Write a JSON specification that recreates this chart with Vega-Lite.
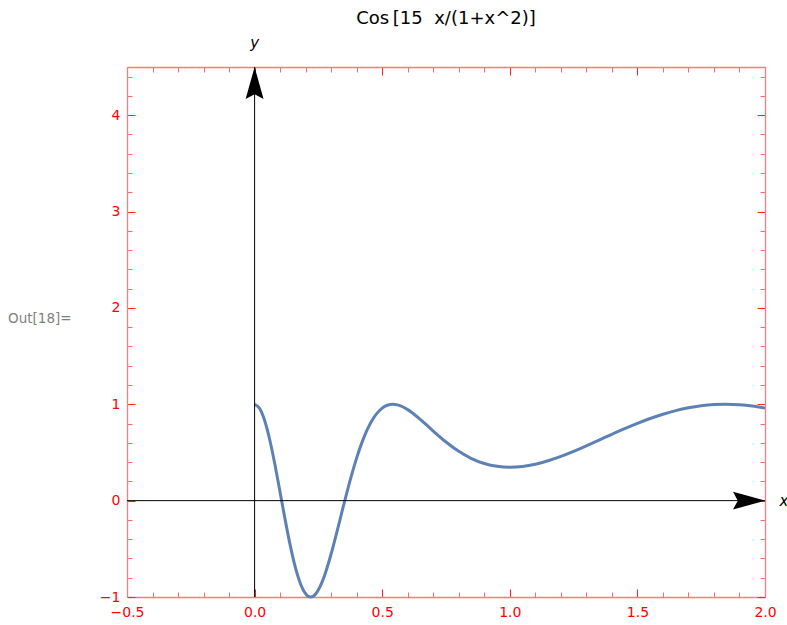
{
  "$schema": "https://vega.github.io/schema/vega-lite/v6.json",
  "width": 638,
  "height": 530,
  "autosize": "none",
  "padding": {"left": 127, "top": 67, "right": 22, "bottom": 28},
  "title": {
    "text": "Cos\u2009[15\u00a0\u00a0x/(1+x^2)]",
    "fontSize": 18,
    "font": "DejaVu Sans",
    "fontWeight": "normal",
    "color": "black",
    "offset": 8,
    "anchor": "middle"
  },
  "config": {"view": {"stroke": null}, "font": "DejaVu Sans"},
  "datasets": {
    "curve": [
      {"x": 0, "y": 1}, {"x": 0.02, "y": 0.9554}, {"x": 0.04, "y": 0.8259}, {"x": 0.06, "y": 0.6241},
      {"x": 0.08, "y": 0.3695}, {"x": 0.1, "y": 0.0855}, {"x": 0.12, "y": -0.2023}, {"x": 0.14, "y": -0.4696},
      {"x": 0.16, "y": -0.6956}, {"x": 0.18, "y": -0.8647}, {"x": 0.2, "y": -0.9672}, {"x": 0.2195, "y": -1.0},
      {"x": 0.24, "y": -0.9658}, {"x": 0.26, "y": -0.872}, {"x": 0.28, "y": -0.7296}, {"x": 0.3, "y": -0.5513},
      {"x": 0.32, "y": -0.3506}, {"x": 0.34, "y": -0.1404}, {"x": 0.36, "y": 0.068}, {"x": 0.38, "y": 0.2652},
      {"x": 0.4, "y": 0.444}, {"x": 0.42, "y": 0.5995}, {"x": 0.44, "y": 0.7292}, {"x": 0.46, "y": 0.8319},
      {"x": 0.48, "y": 0.9084}, {"x": 0.5, "y": 0.9602}, {"x": 0.52, "y": 0.9897}, {"x": 0.5419, "y": 1.0},
      {"x": 0.56, "y": 0.9938}, {"x": 0.58, "y": 0.9744}, {"x": 0.6, "y": 0.9446}, {"x": 0.62, "y": 0.9071},
      {"x": 0.64, "y": 0.8647}, {"x": 0.66, "y": 0.818}, {"x": 0.68, "y": 0.7702}, {"x": 0.7, "y": 0.7222},
      {"x": 0.75, "y": 0.6084}, {"x": 0.8, "y": 0.5115}, {"x": 0.85, "y": 0.4367}, {"x": 0.9, "y": 0.3852},
      {"x": 0.95, "y": 0.3559}, {"x": 1.0, "y": 0.3466}, {"x": 1.05, "y": 0.355}, {"x": 1.1, "y": 0.3783},
      {"x": 1.15, "y": 0.4138}, {"x": 1.2, "y": 0.4591}, {"x": 1.25, "y": 0.5115}, {"x": 1.3, "y": 0.5687},
      {"x": 1.35, "y": 0.6284}, {"x": 1.4, "y": 0.6885}, {"x": 1.45, "y": 0.747}, {"x": 1.5, "y": 0.8022},
      {"x": 1.55, "y": 0.8525}, {"x": 1.6, "y": 0.8968}, {"x": 1.65, "y": 0.9339}, {"x": 1.7, "y": 0.9632},
      {"x": 1.75, "y": 0.9841}, {"x": 1.8, "y": 0.9964}, {"x": 1.8454, "y": 1.0}, {"x": 1.9, "y": 0.9949},
      {"x": 1.95, "y": 0.9815}, {"x": 2.0, "y": 0.9602}
    ],
    "hAxis": [{"x": -0.5, "x2": 2.0, "y": 0}],
    "vAxis": [{"x": 0, "y": -1, "y2": 4.5}],
    "arrows": [{"x": 2.0, "y": 0, "dir": "right"}, {"x": 0, "y": 4.5, "dir": "up"}],
    "axisLabels": [{"x": 0, "y": 4.75, "label": "y"}, {"x": 2.074, "y": 0, "label": "x"}],
    "outLabel": [{"x": -0.966, "y": 1.89, "label": "Out[18]="}]
  },
  "layer": [
    {
      "data": {"name": "curve"},
      "mark": {"type": "line", "color": "#5E81B5", "strokeWidth": 3, "interpolate": "monotone"},
      "encoding": {
        "x": {
          "field": "x", "type": "quantitative",
          "scale": {"domain": [-0.5, 2.0], "nice": false, "zero": false},
          "axis": {
            "orient": "bottom", "title": null, "grid": false,
            "values": [-0.5, -0.4, -0.3, -0.2, -0.1, 0, 0.1, 0.2, 0.3, 0.4, 0.5, 0.6, 0.7, 0.8, 0.9, 1.0, 1.1, 1.2, 1.3, 1.4, 1.5, 1.6, 1.7, 1.8, 1.9, 2.0],
            "domainColor": "#ff7a7a", "domainWidth": 1.3,
            "tickColor": {"condition": {"test": "abs(datum.value*2 - round(datum.value*2)) < 1e-6", "value": "#ff2020"}, "value": "#ff6a6a"},
            "tickSize": {"condition": {"test": "abs(datum.value*2 - round(datum.value*2)) < 1e-6", "value": -8}, "value": -5},
            "tickWidth": 1,
            "labelExpr": "abs(datum.value*2 - round(datum.value*2)) < 1e-6 ? format(datum.value, '.1f') : ''",
            "labelColor": "#ff0000", "labelFontSize": 14, "labelFont": "DejaVu Sans",
            "labelPadding": 16, "labelFlush": false, "labelOverlap": false, "labelBound": false
          }
        },
        "y": {
          "field": "y", "type": "quantitative",
          "scale": {"domain": [-1, 4.5], "nice": false, "zero": false},
          "axis": {
            "orient": "left", "title": null, "grid": false,
            "values": [-1, -0.8, -0.6, -0.4, -0.2, 0, 0.2, 0.4, 0.6, 0.8, 1, 1.2, 1.4, 1.6, 1.8, 2, 2.2, 2.4, 2.6, 2.8, 3, 3.2, 3.4, 3.6, 3.8, 4, 4.2, 4.4],
            "domainColor": "#ff7a7a", "domainWidth": 1.3,
            "tickColor": {"condition": {"test": "abs(datum.value - round(datum.value)) < 1e-6", "value": "#ff2020"}, "value": "#ff6a6a"},
            "tickSize": {"condition": {"test": "abs(datum.value - round(datum.value)) < 1e-6", "value": -8}, "value": -5},
            "tickWidth": 1,
            "labelExpr": "abs(datum.value - round(datum.value)) < 1e-6 ? format(datum.value, 'd') : ''",
            "labelColor": "#ff0000", "labelFontSize": 14, "labelFont": "DejaVu Sans",
            "labelPadding": 15, "labelFlush": false, "labelOverlap": false, "labelBound": false
          }
        }
      }
    },
    {
      "data": {"name": "hAxis"},
      "mark": {"type": "rule", "color": "black", "strokeWidth": 1},
      "encoding": {
        "x": {
          "field": "x", "type": "quantitative",
          "axis": {
            "orient": "top", "title": null, "grid": false, "labels": false,
            "values": [-0.5, -0.4, -0.3, -0.2, -0.1, 0, 0.1, 0.2, 0.3, 0.4, 0.5, 0.6, 0.7, 0.8, 0.9, 1.0, 1.1, 1.2, 1.3, 1.4, 1.5, 1.6, 1.7, 1.8, 1.9, 2.0],
            "domainColor": "#ff7a7a", "domainWidth": 1.3,
            "tickColor": {"condition": {"test": "abs(datum.value*2 - round(datum.value*2)) < 1e-6", "value": "#ff2020"}, "value": "#ff6a6a"},
            "tickSize": {"condition": {"test": "abs(datum.value*2 - round(datum.value*2)) < 1e-6", "value": -8}, "value": -5},
            "tickWidth": 1
          }
        },
        "x2": {"field": "x2"},
        "y": {
          "field": "y", "type": "quantitative",
          "axis": {
            "orient": "right", "title": null, "grid": false, "labels": false,
            "values": [-1, -0.8, -0.6, -0.4, -0.2, 0, 0.2, 0.4, 0.6, 0.8, 1, 1.2, 1.4, 1.6, 1.8, 2, 2.2, 2.4, 2.6, 2.8, 3, 3.2, 3.4, 3.6, 3.8, 4, 4.2, 4.4],
            "domainColor": "#ff7a7a", "domainWidth": 1.3,
            "tickColor": {"condition": {"test": "abs(datum.value - round(datum.value)) < 1e-6", "value": "#ff2020"}, "value": "#ff6a6a"},
            "tickSize": {"condition": {"test": "abs(datum.value - round(datum.value)) < 1e-6", "value": -8}, "value": -5},
            "tickWidth": 1
          }
        }
      }
    },
    {
      "data": {"name": "vAxis"},
      "mark": {"type": "rule", "color": "black", "strokeWidth": 1},
      "encoding": {
        "x": {"field": "x", "type": "quantitative", "axis": null},
        "y": {"field": "y", "type": "quantitative", "axis": null},
        "y2": {"field": "y2"}
      }
    },
    {
      "data": {"name": "arrows"},
      "mark": {"type": "point", "filled": true, "color": "black", "opacity": 1, "size": 1024, "strokeWidth": 0},
      "encoding": {
        "x": {"field": "x", "type": "quantitative", "axis": null},
        "y": {"field": "y", "type": "quantitative", "axis": null},
        "shape": {
          "field": "dir", "type": "nominal", "legend": null,
          "scale": {"domain": ["right", "up"], "range": ["M0,0L-2,-0.56L-1.7,0L-2,0.56Z", "M0,0L-0.56,2L0,1.7L0.56,2Z"]}
        }
      }
    },
    {
      "data": {"name": "axisLabels"},
      "mark": {"type": "text", "font": "DejaVu Sans", "fontStyle": "italic", "fontSize": 15, "color": "black", "align": "center", "baseline": "middle"},
      "encoding": {
        "x": {"field": "x", "type": "quantitative", "axis": null},
        "y": {"field": "y", "type": "quantitative", "axis": null},
        "text": {"field": "label"}
      }
    },
    {
      "data": {"name": "outLabel"},
      "mark": {"type": "text", "font": "DejaVu Sans", "fontSize": 13.5, "color": "#7f7f7f", "align": "left", "baseline": "middle"},
      "encoding": {
        "x": {"field": "x", "type": "quantitative", "axis": null},
        "y": {"field": "y", "type": "quantitative", "axis": null},
        "text": {"field": "label"}
      }
    }
  ],
  "resolve": {"axis": {"x": "independent", "y": "independent"}}
}
